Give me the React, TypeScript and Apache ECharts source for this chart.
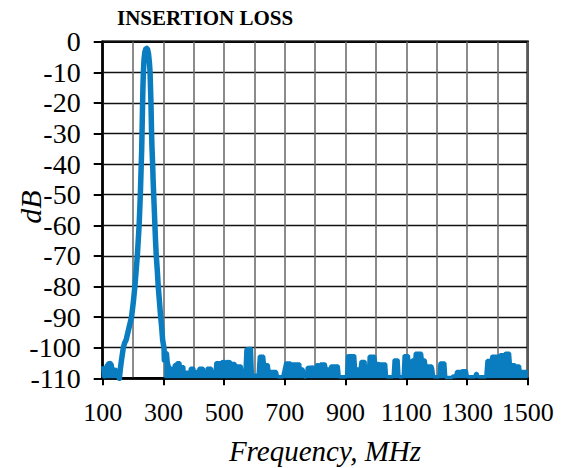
import React, { useEffect, useRef } from "react";
import * as echarts from "echarts";

// Passband (main response) trace: [frequency MHz, dB]
const peakFreq = [155, 158, 162, 168, 172, 177, 183, 189, 195, 201, 206, 210, 214, 217, 220, 222, 224, 225.5, 227, 228.5, 229.5, 230.5, 231.5, 232.5, 234, 236, 239, 242, 245, 248, 251, 254, 256, 257.5, 259, 260, 261, 262.5, 264.5, 266, 268, 270, 272, 274, 276.5, 280, 283, 287, 291, 294, 297.5, 300, 302, 303];
const peakDb = [-110, -107, -104, -100, -98.5, -97.5, -95, -92.5, -90, -85, -80, -75, -70, -65, -60, -55, -50, -45, -40, -35, -30, -25, -20, -15, -10, -6, -3.3, -2.4, -2.2, -2.6, -4, -7, -10, -15, -20, -25, -30, -35, -40, -45, -50, -55, -60, -65, -70, -75, -80, -85, -90, -93, -97.5, -99, -100, -104];

// Stop-band noise floor envelope, low side
const noiseLowFreq = [100, 103, 107, 111, 118, 126, 131, 134, 142, 148, 151, 155];
const noiseLowDb = [-106, -109.5, -109.5, -106, -105, -104.8, -105.5, -107.3, -107, -107.5, -109.5, -110];

// Stop-band noise floor envelope, high side
const noiseHighFreq = [303, 306, 313, 316, 321, 332, 334, 336, 343, 345, 354, 356, 367, 369, 371, 387, 389, 400, 402, 404, 415, 418, 431, 433, 436, 442, 444, 458, 461, 470, 473, 488, 490, 492, 503, 506, 508, 520, 523, 535, 540, 556, 560, 568, 572, 580, 590, 593, 612, 616, 630, 633, 645, 648, 672, 676, 693, 703, 719, 721, 723, 749, 752, 756, 760, 763, 770, 774, 794, 797, 802, 804, 811, 814, 817, 833, 836, 849, 852, 876, 879, 903, 907, 930, 933, 948, 951, 964, 967, 975, 978, 996, 999, 1013, 1032, 1035, 1057, 1060, 1073, 1076, 1090, 1093, 1107, 1110, 1116, 1119, 1128, 1130, 1150, 1153, 1162, 1165, 1184, 1187, 1190, 1208, 1211, 1227, 1230, 1250, 1255, 1262, 1266, 1282, 1284, 1298, 1301, 1326, 1329, 1333, 1336, 1362, 1366, 1380, 1382, 1408, 1410, 1424, 1427, 1440, 1443, 1457, 1460, 1473, 1475, 1500];
const noiseHighDb = [-104, -101.5, -101.8, -105, -106.7, -106.7, -109, -105.6, -105.6, -104.9, -104.9, -106.2, -106.2, -109.5, -108, -108, -106.7, -106.7, -109.5, -107.8, -107.8, -106.7, -106.7, -109, -108.4, -108.4, -106.7, -106.7, -108.5, -108.5, -104.9, -104.9, -106, -104.6, -104.5, -106, -104.5, -104.6, -105.1, -105.2, -106, -106, -109, -109.5, -100.5, -100.3, -100.3, -109, -109, -102.8, -102.8, -105.6, -105.6, -107.8, -107.8, -109.5, -109.5, -105, -105, -108, -105.3, -105.3, -109.5, -107, -107, -109.5, -109.5, -106.5, -106.3, -107.5, -107.5, -105.6, -105.6, -108, -105.3, -105.3, -107, -107, -106, -106, -109.5, -109.5, -102.6, -102.6, -107, -107, -104.5, -104.5, -109, -109, -102.8, -102.8, -105, -105.3, -105.3, -109.5, -109.5, -104, -104, -109.5, -109.5, -102.6, -102.6, -106.5, -106.5, -104, -104, -101.8, -101.8, -104, -104, -106, -106, -107, -109.5, -109.5, -105, -105, -109.7, -109.7, -109.2, -109.5, -107.8, -107.8, -107.5, -107.5, -109.5, -109.5, -108.4, -108.4, -109.5, -109.5, -104.2, -104.2, -102.8, -102.8, -102.3, -102.3, -101.8, -101.8, -105.6, -105.6, -106, -106, -107.8, -107.8];

const xTickLabels = ["100", "300", "500", "700", "900", "1100", "1300", "1500"];
const titleText = "INSERTION LOSS";
const xAxisTitle = "Frequency, MHz";
const yAxisTitle = "dB";

const BLUE = "#0a7dc0";
const FONT = "'Liberation Serif', 'Times New Roman', serif";

export default function App() {
  const ref = useRef<HTMLDivElement>(null);
  useEffect(() => {
    if (!ref.current) return;
    const chart = echarts.init(ref.current, null, { renderer: "svg" });
    const peakData = peakFreq.map((f, i) => [f, peakDb[i]]);
    const noiseData: any[] = noiseLowFreq.map((f, i) => [f, noiseLowDb[i]]);
    noiseData.push(null);
    noiseHighFreq.forEach((f, i) => noiseData.push([f, noiseHighDb[i]]));

    chart.setOption({
      animation: false,
      backgroundColor: "#ffffff",
      textStyle: { fontFamily: FONT },
      grid: {
        left: 102.7,
        right: 565 - 527.7,
        top: 41.7,
        bottom: 468 - 378.3,
        show: true,
        borderColor: "#000",
        borderWidth: 2.5,
        backgroundColor: "transparent",
      },
      xAxis: [
        {
          type: "value",
          min: 100,
          max: 1500,
          interval: 100,
          axisLine: { show: false },
          axisTick: { show: false },
          axisLabel: { show: false },
          splitLine: { show: true, lineStyle: { color: "#6e6e6e", width: 1.6 } },
        },
        {
          type: "value",
          position: "bottom",
          min: 0,
          max: 1400,
          interval: 200,
          axisLine: { show: true, onZero: false, lineStyle: { color: "#000", width: 2.5 } },
          axisTick: { show: true, inside: false, length: 7, lineStyle: { color: "#000", width: 2 } },
          axisLabel: {
            show: true,
            margin: 21,
            fontSize: 26,
            color: "#000",
            fontFamily: FONT,
            formatter: (v: number) => xTickLabels[Math.round(v / 200)] ?? "",
          },
          splitLine: { show: false },
        },
      ],
      yAxis: {
        type: "value",
        min: -110,
        max: 0,
        interval: 10,
        axisLine: { show: true, onZero: false, lineStyle: { color: "#000", width: 2.5 } },
        axisTick: { show: true, inside: false, length: 9, lineStyle: { color: "#000", width: 2 } },
        axisLabel: { show: true, margin: 22, fontSize: 28, color: "#000", fontFamily: FONT },
        splitLine: { show: true, lineStyle: { color: "#111", width: 1.4 } },
      },
      graphic: [
        {
          type: "text",
          left: 117,
          top: 7,
          style: { text: titleText, font: `bold 21px ${FONT}`, fill: "#000" },
        },
        {
          type: "text",
          x: 325,
          y: 451,
          style: {
            text: xAxisTitle,
            font: `italic 29px ${FONT}`,
            fill: "#000",
            align: "center",
            verticalAlign: "middle",
          },
        },
        {
          type: "text",
          x: 30,
          y: 207,
          rotation: Math.PI / 2,
          style: {
            text: yAxisTitle,
            font: `italic 30px ${FONT}`,
            fill: "#000",
            align: "center",
            verticalAlign: "middle",
          },
        },
      ],
      series: [
        {
          type: "line",
          name: "noise",
          xAxisIndex: 0,
          data: noiseData,
          showSymbol: false,
          connectNulls: false,
          lineStyle: { color: BLUE, width: 3.5 },
          areaStyle: { color: BLUE, opacity: 1, origin: "start" },
          z: 3,
        },
        {
          type: "line",
          name: "peak",
          xAxisIndex: 0,
          data: peakData,
          showSymbol: false,
          lineStyle: { color: BLUE, width: 5.5, join: "round", cap: "round" },
          z: 4,
        },
      ],
    });
    return () => chart.dispose();
  }, []);
  return (
    <div
      ref={ref}
      style={{ position: "fixed", left: 0, top: 0, width: 565, height: 468, background: "#fff" }}
    />
  );
}
